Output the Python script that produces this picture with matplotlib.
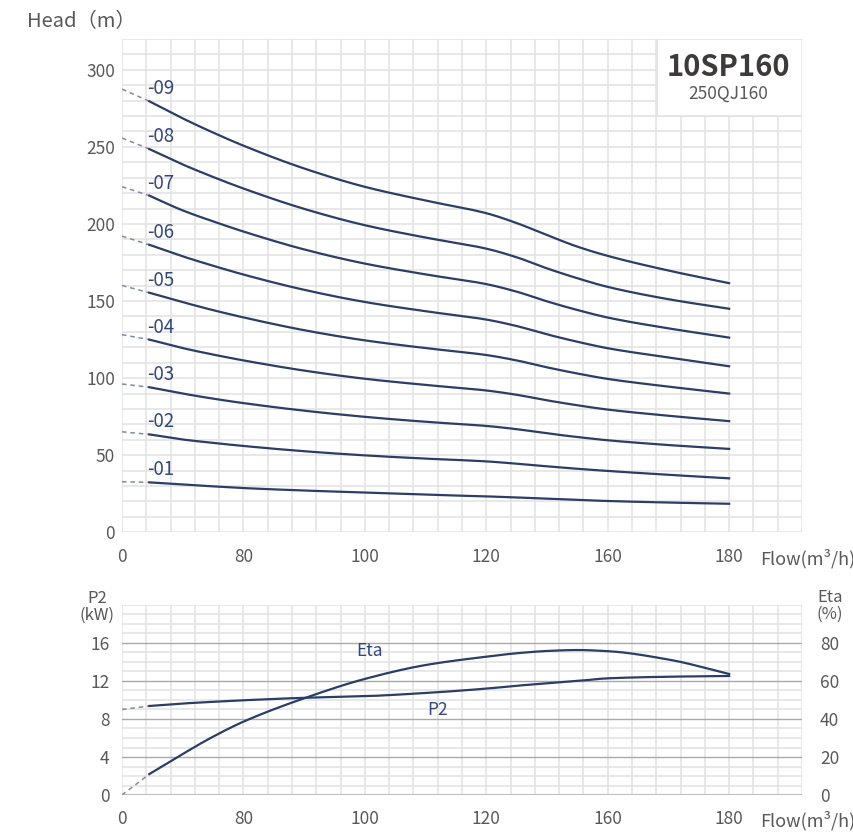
import matplotlib.pyplot as plt
from matplotlib.patches import Rectangle
import numpy as np

plt.rcParams['font.family'] = ['Noto Sans CJK SC', 'DejaVu Sans']

# the flow axis on the sheet is not linear: labelled ticks are 5 grid cells apart
flow_breaks = [0, 80, 100, 120, 160, 180, 192]
cell_breaks = [0, 5, 10, 15, 20, 25, 28]
flow_ticks = [0, 80, 100, 120, 160, 180]

# head curves (m), one per stage count
flow = [18, 40, 60, 80, 90, 100, 110, 120, 130, 140, 150, 160, 170, 180]
head_01 = [32.4, 31.0, 29.8, 28.7, 27.1, 25.8, 24.4, 23.3, 22.6, 21.8, 21.0, 20.3, 19.3, 18.5]
head_02 = [63.5, 60.2, 58.0, 56.0, 52.6, 49.9, 47.8, 46.0, 44.5, 42.8, 41.2, 39.8, 37.3, 35.0]
head_03 = [94.1, 90.0, 86.7, 83.8, 78.9, 74.9, 71.7, 69.0, 66.9, 64.2, 61.8, 59.7, 56.6, 54.1]
head_04 = [125.0, 119.5, 115.3, 111.5, 104.9, 99.6, 95.6, 92.0, 89.2, 85.6, 82.4, 79.6, 75.6, 72.1]
head_05 = [155.4, 149.3, 144.1, 139.4, 131.1, 124.5, 119.5, 115.0, 111.5, 107.0, 103.0, 99.5, 94.5, 90.0]
head_06 = [186.5, 179.0, 172.9, 167.2, 157.3, 149.4, 143.4, 138.0, 133.8, 128.4, 123.6, 119.4, 113.4, 107.7]
head_07 = [218.4, 208.8, 201.7, 195.1, 183.5, 174.3, 167.3, 161.0, 156.1, 149.8, 144.2, 139.3, 132.3, 126.3]
head_08 = [248.6, 238.6, 230.5, 223.0, 209.8, 199.2, 191.2, 184.0, 178.4, 171.2, 164.8, 159.2, 151.2, 145.0]
head_09 = [279.6, 268.5, 259.3, 250.8, 236.0, 224.1, 215.2, 207.0, 200.6, 192.8, 185.3, 179.3, 169.8, 161.6]
heads = [head_01, head_02, head_03, head_04, head_05, head_06, head_07, head_08, head_09]
stage_labels = ['-01', '-02', '-03', '-04', '-05', '-06', '-07', '-08', '-09']
shutoff_head = [32.8, 65.2, 96.2, 128.2, 160.1, 192.1, 224.2, 255.8, 287.5]

# power and efficiency
p2 = [9.37, 9.63, 9.81, 9.97, 10.23, 10.4, 10.74, 11.2, 11.5, 11.75, 12.0, 12.28, 12.45, 12.53]
eta = [11.0, 21.6, 30.7, 38.6, 50.9, 61.1, 68.4, 72.8, 74.6, 75.8, 76.3, 75.7, 71.3, 63.7]
p2_shutoff = 9.0
eta_shutoff = 0.0

navy = '#2c3e66'
label_navy = '#34477a'
dash_col = '#7f8ba6'
grid_col = '#e2e2e2'
text_grey = '#595959'


def to_cells(x):
    return np.interp(np.asarray(x, dtype=float), flow_breaks, cell_breaks)


def to_flow(c):
    return np.interp(np.asarray(c, dtype=float), cell_breaks, flow_breaks)


def smooth(x, y, n=300):
    """monotone cubic through the read points, done in grid-cell space"""
    xc = to_cells(x)
    y = np.asarray(y, dtype=float)
    h = np.diff(xc)
    delta = np.diff(y) / h
    d = np.zeros_like(y)
    d[0], d[-1] = delta[0], delta[-1]
    for k in range(1, len(y) - 1):
        if delta[k - 1] * delta[k] > 0:
            w1 = 2 * h[k] + h[k - 1]
            w2 = h[k] + 2 * h[k - 1]
            d[k] = (w1 + w2) / (w1 / delta[k - 1] + w2 / delta[k])
    xs = np.linspace(xc[0], xc[-1], n)
    i = np.clip(np.searchsorted(xc, xs) - 1, 0, len(h) - 1)
    t = (xs - xc[i]) / h[i]
    ys = ((2 * t**3 - 3 * t**2 + 1) * y[i] + (t**3 - 2 * t**2 + t) * h[i] * d[i]
          + (-2 * t**3 + 3 * t**2) * y[i + 1] + (t**3 - t**2) * h[i] * d[i + 1])
    return to_flow(xs), ys


fig = plt.figure(figsize=(8.54, 8.32), dpi=100)
ax1 = fig.add_axes([0.14286, 0.36022, 0.79625, 0.59291])
ax2 = fig.add_axes([0.14286, 0.04447, 0.79625, 0.22837])

grid_flows = to_flow(np.arange(29))
for ax in (ax1, ax2):
    ax.set_xscale('function', functions=(to_cells, to_flow))
    ax.set_xlim(0, 192)
    ax.set_xticks(flow_ticks)
    ax.set_xticklabels([str(f) for f in flow_ticks])
    ax.set_xticks(grid_flows, minor=True)
    ax.set_axisbelow(True)
    for s in ax.spines.values():
        s.set_visible(False)
    ax.tick_params(which='both', length=0, labelsize=12.5, colors=text_grey)
    ax.tick_params(axis='x', pad=11)
    ax.grid(True, which='both', axis='x', color=grid_col, lw=1.1)

# ---- head chart
ax1.set_ylim(0, 320)
ax1.set_yticks([0, 50, 100, 150, 200, 250, 300])
ax1.set_yticks(np.arange(0, 321, 10), minor=True)
ax1.grid(True, which='both', axis='y', color=grid_col, lw=1.1)
ax1.tick_params(axis='y', pad=5)

for h, lab, h0 in zip(heads, stage_labels, shutoff_head):
    ax1.plot([0, flow[0]], [h0, h[0]], color=dash_col, lw=1.1, ls=(0, (3, 2.5)), zorder=3)
    ax1.plot(*smooth(flow, h), color=navy, lw=1.6, zorder=4)
    ax1.annotate(lab, (flow[0], h[0]), xytext=(-1.5, 1.5), textcoords='offset points',
                 ha='left', va='bottom', fontsize=13.5, color=label_navy, zorder=5)

ax1.add_patch(Rectangle((0.7868, 0.844), 0.2132, 0.156, transform=ax1.transAxes,
                        facecolor='white', edgecolor=grid_col, lw=1.1, zorder=2))
ax1.text(0.892, 0.944, '10SP160', transform=ax1.transAxes, ha='center', va='center',
         fontsize=21, fontweight='bold', color='#3d3a3a', zorder=5)
ax1.text(0.892, 0.890, '250QJ160', transform=ax1.transAxes, ha='center', va='center',
         fontsize=12.5, color=text_grey, zorder=5)

fig.text(27 / 854, 1 - 22 / 832, 'Head（m）', ha='left', va='center', fontsize=14.5, color=text_grey)
fig.text(808 / 854, 1 - 559 / 832, 'Flow(m³/h)', ha='center', va='center', fontsize=13, color=text_grey)

# ---- power / efficiency chart
ax2.set_ylim(0, 20)
ax2.set_yticks([0, 4, 8, 12, 16])
ax2.set_yticks(np.arange(0, 21, 1), minor=True)
ax2.grid(True, which='minor', axis='y', color=grid_col, lw=1.1)
ax2.grid(True, which='major', axis='y', color='#a9a9a9', lw=1.0)
ax2.axhline(0, color='#bdbdbd', lw=2.2, zorder=1)
ax2.tick_params(axis='y', pad=9)

ax2r = ax2.twinx()
ax2r.set_ylim(0, 100)
ax2r.set_yticks([0, 20, 40, 60, 80])
for s in ax2r.spines.values():
    s.set_visible(False)
ax2r.tick_params(length=0, labelsize=12.5, colors=text_grey, pad=13)

ax2.plot([0, flow[0]], [p2_shutoff, p2[0]], color=dash_col, lw=1.1, ls=(0, (3, 2.5)), zorder=3)
ax2.plot(*smooth(flow, p2), color=navy, lw=1.6, zorder=4)
ax2r.plot([0, flow[0]], [eta_shutoff, eta[0]], color=dash_col, lw=1.1, ls=(0, (3, 2.5)), zorder=3)
ax2r.plot(*smooth(flow, eta), color=navy, lw=1.6, zorder=4)

ax2.text(100.7, 15.2, 'Eta', ha='center', va='center', fontsize=12.5, color=label_navy)
ax2.text(112, 8.95, 'P2', ha='center', va='center', fontsize=12.5, color=label_navy)

fig.text(97 / 854, 1 - 607 / 832, 'P2\n(kW)', ha='center', va='center', fontsize=12,
         color=text_grey, linespacing=0.95)
fig.text(830 / 854, 1 - 606 / 832, 'Eta\n(%)', ha='center', va='center', fontsize=12,
         color=text_grey, linespacing=0.95)
fig.text(808 / 854, 1 - 821 / 832, 'Flow(m³/h)', ha='center', va='center', fontsize=13, color=text_grey)

fig.savefig('out.png', dpi=100)
